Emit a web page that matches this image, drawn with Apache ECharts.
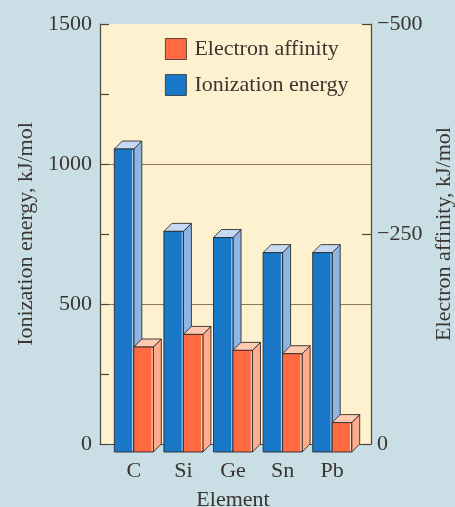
<!DOCTYPE html>
<html>
<head>
<meta charset="utf-8">
<script src="https://cdn.jsdelivr.net/npm/echarts@6/dist/echarts.min.js"></script>
<style>
html,body{margin:0;padding:0;background:#c9dfe5;}
#chart{width:455px;height:507px;}
</style>
</head>
<body>
<div id="chart"></div>
<script>
const categories = ['C', 'Si', 'Ge', 'Sn', 'Pb'];
const ionizationEnergy = [1082, 788, 766, 712, 712];
const electronAffinity = [-125, -140, -121, -117, -35];
const seriesNames = ['Ionization energy', 'Electron affinity'];
const legendOrder = ['Electron affinity', 'Ionization energy'];

const FONT = '"Liberation Serif", "DejaVu Serif", serif';
const TXT = '#3a3530';
const AXIS = '#4a4540';
const GRIDC = '#8a7a5a';
const OUT = '#2e2e2e';

const blue = {front: '#1877c6', side: '#8fb5e3', top: '#c8d9f3', hi: '#b9d2f2'};
const orange = {front: '#ff6a40', side: '#ffac8c', top: '#ffcab2', hi: '#ffe0d0'};

function makeRender(c, onLeft) {
  return function (params, api) {
    const i = api.value(0), v = api.value(1);
    const t = api.coord([i, v]);
    const b = api.coord([i, 0]);
    const w = 19.5, d = 8;
    const x0 = onLeft ? t[0] - w : t[0];
    const x1 = x0 + w;
    const yt = t[1] + d, yb = b[1] + d;
    const ls = {stroke: OUT, lineWidth: 0.9};
    return {
      type: 'group',
      children: [
        {type: 'polygon', shape: {points: [[x1, yt], [x1 + d, yt - d], [x1 + d, yb - d], [x1, yb]]},
         style: Object.assign({fill: c.side}, ls)},
        {type: 'polygon', shape: {points: [[x0, yt], [x0 + d, yt - d], [x1 + d, yt - d], [x1, yt]]},
         style: Object.assign({fill: c.top}, ls)},
        {type: 'rect', shape: {x: x0, y: yt, width: w, height: yb - yt},
         style: Object.assign({fill: c.front}, ls)},
        {type: 'line', shape: {x1: x1 - 1.2, y1: yt + 1, x2: x1 - 1.2, y2: yb - 1},
         style: {stroke: c.hi, lineWidth: 1}}
      ]
    };
  };
}

const noComma = v => String(v);

const chart = echarts.init(document.getElementById('chart'));
chart.setOption({
  backgroundColor: '#c9dfe5',
  animation: false,
  textStyle: {fontFamily: FONT},
  legend: {
    data: legendOrder.map(n => ({name: n, icon: 'rect'})),
    orient: 'vertical',
    left: 165, top: 38, padding: 0,
    itemWidth: 21, itemHeight: 21, itemGap: 14,
    itemStyle: {borderColor: OUT, borderWidth: 0.8},
    textStyle: {fontFamily: FONT, fontSize: 22, color: TXT, padding: [0, 0, 0, 3]}
  },
  grid: [
    {left: 100, top: 24, width: 271, height: 420, show: true, backgroundColor: '#fdf1cf', borderWidth: 0,
     containLabel: false, outerBoundsMode: 'none'},
    {left: 109, top: 24, width: 248, height: 420, containLabel: false, outerBoundsMode: 'none'}
  ],
  xAxis: [
    {type: 'category', gridIndex: 0, data: categories,
     axisLine: {show: true, lineStyle: {color: AXIS, width: 1.2}},
     axisTick: {show: false}, axisLabel: {show: false}},
    {type: 'category', gridIndex: 1, data: categories,
     axisLine: {show: false}, axisTick: {show: false},
     axisLabel: {fontFamily: FONT, fontSize: 22, color: TXT, margin: 16},
     name: 'Element', nameLocation: 'middle', nameGap: 45,
     nameTextStyle: {fontFamily: FONT, fontSize: 22, color: TXT}}
  ],
  yAxis: [
    {type: 'value', gridIndex: 0, position: 'left', min: 0, max: 1500, interval: 500,
     axisLine: {show: true, lineStyle: {color: AXIS, width: 1.2}},
     axisTick: {show: true, inside: true, length: 9, lineStyle: {color: AXIS, width: 1.2}},
     minorTick: {show: true, splitNumber: 2, length: 9, lineStyle: {color: AXIS, width: 1.2}},
     axisLabel: {fontFamily: FONT, fontSize: 22, color: TXT, margin: 8, formatter: noComma},
     splitLine: {show: true, showMinLine: false, showMaxLine: false, lineStyle: {color: GRIDC, width: 1.2}},
     name: 'Ionization energy, kJ/mol', nameLocation: 'middle', nameGap: 61, nameRotate: 90,
     nameTextStyle: {fontFamily: FONT, fontSize: 22, color: TXT}},
    {type: 'value', gridIndex: 0, position: 'right', min: -500, max: 0, interval: 250, inverse: true,
     axisLine: {show: true, lineStyle: {color: AXIS, width: 1.2}},
     axisTick: {show: true, inside: true, length: 9, lineStyle: {color: AXIS, width: 1.2}},
     axisLabel: {fontFamily: FONT, fontSize: 22, color: TXT, margin: 6,
                 formatter: v => String(v).replace('-', '\u2212')},
     splitLine: {show: false},
     name: 'Electron affinity, kJ/mol', nameLocation: 'middle', nameGap: 61, nameRotate: 90,
     nameTextStyle: {fontFamily: FONT, fontSize: 22, color: TXT}},
    {type: 'value', gridIndex: 1, min: 0, max: 1500, show: false},
    {type: 'value', gridIndex: 1, min: -500, max: 0, inverse: true, show: false}
  ],
  series: [
    {name: seriesNames[0], type: 'custom', xAxisIndex: 1, yAxisIndex: 2,
     itemStyle: {color: blue.front},
     renderItem: makeRender(blue, true),
     data: ionizationEnergy.map((v, i) => [i, v]), z: 3},
    {name: seriesNames[1], type: 'custom', xAxisIndex: 1, yAxisIndex: 3,
     itemStyle: {color: orange.front},
     renderItem: makeRender(orange, false),
     data: electronAffinity.map((v, i) => [i, v]), z: 4}
  ]
});
</script>
</body>
</html>
